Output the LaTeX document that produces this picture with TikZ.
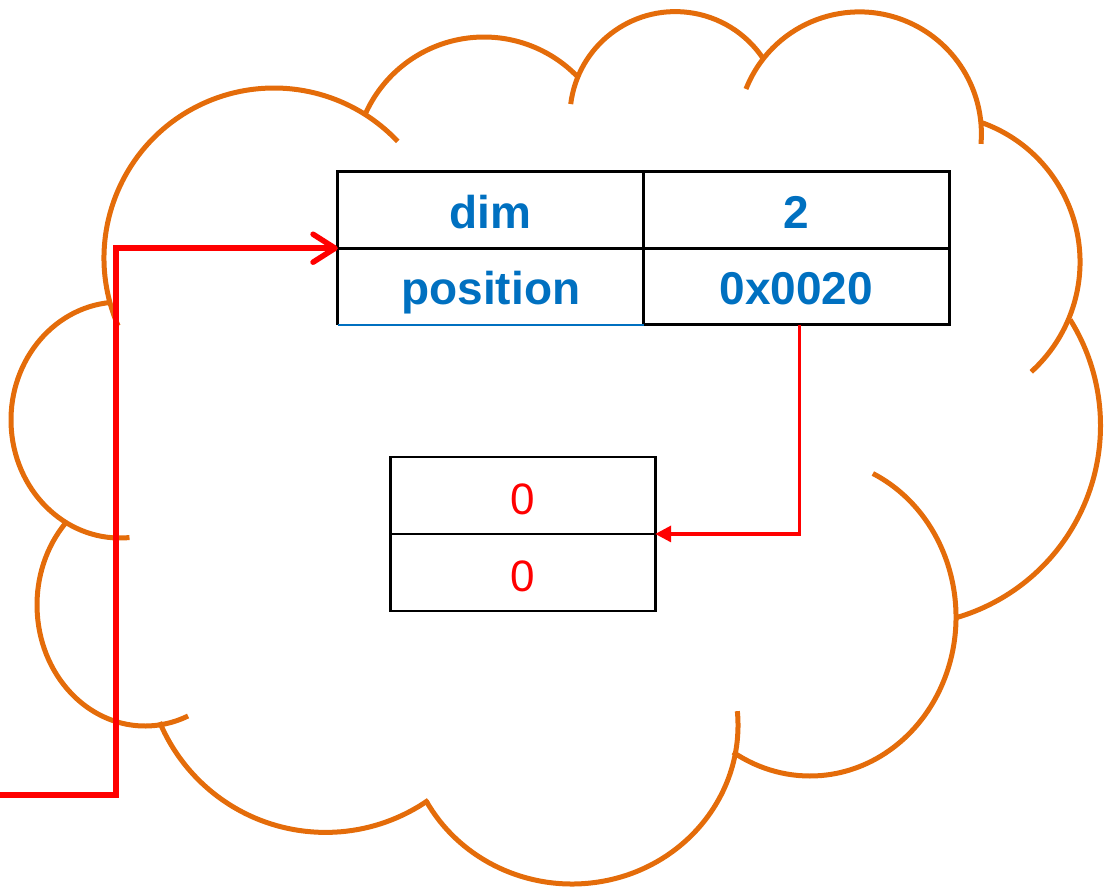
\documentclass[tikz,border=0pt]{standalone}
\usepackage{fontspec}
\setmainfont{Liberation Sans}
\usetikzlibrary{arrows.meta,calc}
\definecolor{cloudorange}{RGB}{228,108,10}
\definecolor{textblue}{RGB}{0,112,192}
\definecolor{linkred}{RGB}{255,0,0}

% one bump of the cloud outline: centre, radii, start and end angle
\newcommand\cloudarc[6]{%
  \draw[cloudline] (#1,#2) ++(#5:#3 and #4)
    arc[start angle=#5, end angle=#6, x radius=#3, y radius=#4];}

\begin{document}
\begin{tikzpicture}[x=1pt, y=-1pt,
  cloudline/.style={draw=cloudorange, line width=5pt},
  cell/.style={inner sep=0pt, minimum height=76.5pt, text height=37pt, text depth=0pt},
  fieldcell/.style={cell, minimum width=305.5pt, text=textblue,
    font=\fontsize{46}{46}\selectfont\bfseries},
  valuecell/.style={cell, minimum width=264pt, text=linkred,
    font=\fontsize{44}{44}\selectfont},
  gridline/.style={draw=black, line width=2.8pt},
  underline/.style={draw=textblue, line width=1.8pt},
  feedlink/.style={draw=linkred, line width=5.5pt,
    -{Straight Barb[length=22pt, width=28pt, round]}},
  ptrlink/.style={draw=linkred, line width=3.4pt,
    -{Triangle[length=16pt, width=16pt]}}
]
\useasboundingbox (0,0) rectangle (1105,887);

% cloud outline, bump by bump (clockwise from the left)
\cloudarc{120}{420}{109}{118}{265}{85}
\cloudarc{274}{258}{170}{170}{156.5}{316.7}
\cloudarc{484}{167}{130}{130}{204.6}{316.2}
\cloudarc{675.4}{117.1}{105.5}{105.5}{187.1}{326.5}
\cloudarc{859.4}{133.9}{122}{122}{201.6}{364.7}
\cloudarc{932}{262}{148}{148}{288.9}{407.9}
\cloudarc{900.5}{425.6}{200}{200}{328}{434}
\cloudarc{810}{617}{146}{159}{295.5}{481.8}
\cloudarc{572}{725}{166}{159}{-5}{151.4}
\cloudarc{325.6}{652.4}{180}{180}{55.2}{157.2}
\cloudarc{145}{605}{108}{121}{223.2}{66.5}

% descriptor table
\node[fieldcell] (t1a) at (490.75,209.75) {dim};
\node[fieldcell] (t1b) at (796.25,209.75) {2};
\node[fieldcell] (t1c) at (490.75,286.25) {position};
\node[fieldcell] (t1d) at (796.25,286.25) {0x0020};
\draw[gridline] (t1c.south east) -- (t1d.south east) -- (t1b.north east)
  -- (t1a.north west) -- (t1c.south west);
\draw[gridline] (t1a.south west) -- (t1b.south east);
\draw[gridline] (t1a.north east) -- (t1c.south east);
\draw[underline] (t1c.south west) -- (t1c.south east);

% data block
\node[valuecell] (t2a) at (523,495.5) {0};
\node[valuecell] (t2b) at (523,572.5) {0};
\draw[gridline] (t2a.north west) rectangle (t2b.south east);
\draw[gridline] (t2a.south west) -- (t2a.south east);

% connectors
\coordinate (feed) at (0,795);
\coordinate (feedturn) at (116,795);
\draw[feedlink] (feed) -- (feedturn) |- (t1a.south west);
\draw[ptrlink] ($(t1d.south)+(3,0)$) |- (t2a.south east);
\end{tikzpicture}
\end{document}
